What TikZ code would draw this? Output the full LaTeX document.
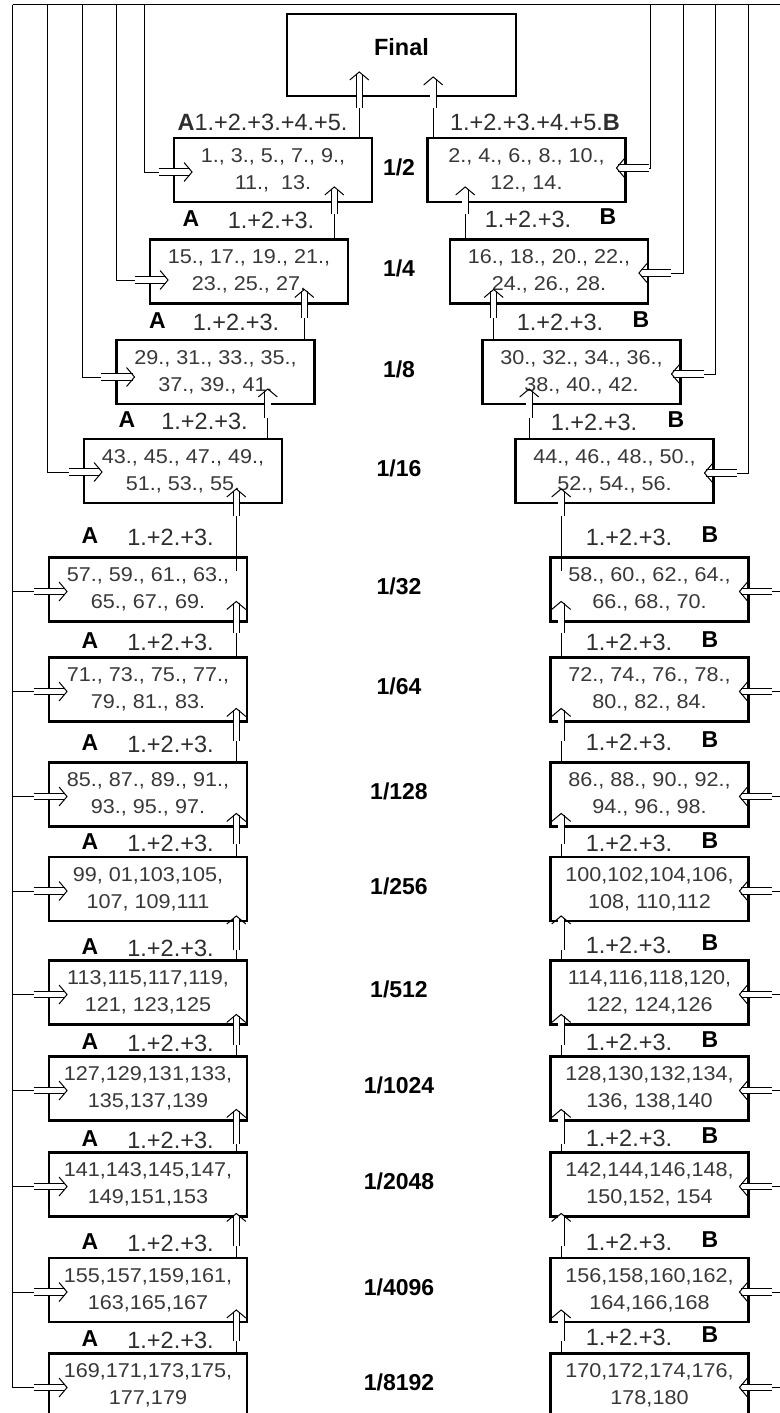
\documentclass[tikz,border=0pt]{standalone}
\usepackage{fontspec}
\setmainfont{Liberation Sans}
\newfontfamily\numfont[FakeStretch=1.08]{Liberation Sans}
\usetikzlibrary{arrows.meta,calc,decorations.markings}

\tikzset{
  roundbox/.style={draw, line width=2.6pt, minimum width=198pt, minimum height=64pt,
    inner sep=0pt, align=center, text=black!78, font=\numfont\fontsize{20}{27}\selectfont},
  feed/.style={double, double distance=5.5pt, line width=0.8pt, shorten >=2.5pt,
    postaction={decorate, decoration={markings, mark=at position 1 with
      {\arrow[line width=1pt]{Straight Barb[length=8pt,width=19pt]}}}}},
  wire/.style={line width=1pt},
  sumlab/.style={font=\fontsize{23.5}{24}\selectfont, text=black!82, inner sep=0pt},
  sidelab/.style={font=\fontsize{23}{24}\selectfont\bfseries, inner sep=0pt},
  fraclab/.style={font=\fontsize{23}{24}\selectfont\bfseries, inner sep=0pt},
}

\begin{document}
\begin{tikzpicture}[x=1pt, y=-1pt]
  \useasboundingbox (0,0) rectangle (779,1413);

  % Final box
  \node[draw, line width=2.6pt, minimum width=229pt, minimum height=82pt, inner sep=0pt,
    label={[anchor=center, yshift=-34pt, font=\fontsize{23.5}{24}\selectfont\bfseries]north:Final}]
    (fin) at (401.5,55) {};

  % Left boxes
  \foreach \i/\x/\y/\txt in {1/273/170/{1., 3., 5., 7., 9.,\\11.,\ \ 13.},
      2/249/271.5/{15., 17., 19., 21.,\\23., 25., 27.},
      3/215.5/372/{29., 31., 33., 35.,\\37., 39., 41.},
      4/183/471/{43., 45., 47., 49.,\\51., 53., 55.},
      5/148/589.5/{57., 59., 61., 63.,\\65., 67., 69.},
      6/148/689.5/{71., 73., 75., 77.,\\79., 81., 83.},
      7/148/794.5/{85., 87., 89., 91.,\\93., 95., 97.},
      8/148/889/{99, 01,103,105,\\107, 109,111},
      9/148/992.5/{113,115,117,119,\\121, 123,125},
      10/148/1088.5/{127,129,131,133,\\135,137,139},
      11/148/1184.5/{141,143,145,147,\\149,151,153},
      12/148/1290/{155,157,159,161,\\163,165,167},
      13/148/1385.5/{169,171,173,175,\\177,179}}
    \node[roundbox] (l\i) at (\x,\y) {\txt};

  % Right boxes
  \foreach \i/\x/\y/\txt in {1/526.5/170/{2., 4., 6., 8., 10.,\\12., 14.},
      2/549/271.5/{16., 18., 20., 22.,\\24., 26., 28.},
      3/581.5/372/{30., 32., 34., 36.,\\38., 40., 42.},
      4/614.5/471/{44., 46., 48., 50.,\\52., 54., 56.},
      5/649.5/589.5/{58., 60., 62., 64.,\\66., 68., 70.},
      6/649.5/689.5/{72., 74., 76., 78.,\\80., 82., 84.},
      7/649.5/794.5/{86., 88., 90., 92.,\\94., 96., 98.},
      8/649.5/889/{100,102,104,106,\\108, 110,112},
      9/649.5/992.5/{114,116,118,120,\\122, 124,126},
      10/649.5/1088.5/{128,130,132,134,\\136, 138,140},
      11/649.5/1184.5/{142,144,146,148,\\150,152, 154},
      12/649.5/1290/{156,158,160,162,\\164,166,168},
      13/649.5/1385.5/{170,172,174,176,\\178,180}}
    \node[roundbox] (r\i) at (\x,\y) {\txt};

  % Stage fractions
  \foreach \i/\y/\d in {1/170/2, 2/271.5/4, 3/372/8, 4/471/16, 5/589.5/32, 6/689.5/64,
      7/794.5/128, 8/889/256, 9/992.5/512, 10/1088.5/1024, 11/1184.5/2048,
      12/1290/4096, 13/1385.5/8192}
    \node[fraclab] (st\i) at (399,\y-3) {1/\d};

  % Sum labels
  \node[sumlab] (topl) at (262.5,122) {\textbf{A}1.+2.+3.+4.+5.};
  \node[sumlab] (topr) at (535,122) {1.+2.+3.+4.+5.\textbf{B}};
  \foreach \i/\xa/\xs/\y in {1/191/271/220, 2/157.5/236/322, 3/127/204.5/421,
      4/90/170.5/537, 5/90/170.5/642, 6/90/170.5/744, 7/90/170.5/843, 8/90/170.5/948,
      9/90/170.5/1043, 10/90/170.5/1140, 11/90/170.5/1243, 12/90/170.5/1340} {
    \node[sidelab] (al\i) at (\xa,\y-1) {A};
    \node[sumlab] (sl\i) at (\xs,\y) {1.+2.+3.};
  }
  \foreach \i/\xs/\xb/\y in {1/528/608/219, 2/560/641/322, 3/594/676/422,
      4/629/710/537, 5/629/710/642, 6/629/710/742, 7/629/710/843, 8/629/710/945,
      9/629/710/1042, 10/629/710/1138, 11/629/710/1242, 12/629/710/1337} {
    \node[sidelab] (br\i) at (\xb,\y-2) {B};
    \node[sumlab] (sr\i) at (\xs,\y) {1.+2.+3.};
  }

  % Feed lines from the top
  \coordinate (tlft) at (12.5,5);
  \coordinate (trgt) at (786,5);
  \draw[wire] (tlft) -- (trgt);
  \foreach \i/\x/\dy in {1/144/2, 2/116/8.5, 3/82/5, 4/47/1} {
    \coordinate (vl\i) at (\x,5);
    \draw[wire] (vl\i) |- ($(l\i.west)+(-14,\dy)$);
    \draw[feed] ($(l\i.west)+(-14,\dy)$) -- ($(l\i.west)+(20,\dy)$);
  }
  \foreach \i in {5,...,13} {
    \draw[wire] (tlft) |- ($(l\i.west)+(-14,2)$);
    \draw[feed] ($(l\i.west)+(-14,2)$) -- ($(l\i.west)+(20,2)$);
  }
  \foreach \i/\x/\dy in {1/650/-2, 2/683/1.5, 3/715/2, 4/748/2} {
    \coordinate (vr\i) at (\x,5);
    \draw[wire] (vr\i) |- ($(r\i.east)+(22,\dy)$);
    \draw[feed] ($(r\i.east)+(22,\dy)$) -- ($(r\i.east)+(-11,\dy)$);
  }
  \foreach \i in {5,...,13} {
    \draw[wire] (trgt) |- ($(r\i.east)+(22,2)$);
    \draw[feed] ($(r\i.east)+(22,2)$) -- ($(r\i.east)+(-11,2)$);
  }

  % Winners up to the final
  \draw[wire] ($(l1.north east)+(-14,0)$) -- ($(l1.north east |- fin.south)+(-14,11)$);
  \draw[feed] ($(l1.north east |- fin.south)+(-14,11)$) -- ($(l1.north east |- fin.south)+(-14,-26)$);
  \draw[wire] ($(r1.north west)+(7,0)$) -- ($(r1.north west |- fin.south)+(7,11)$);
  \draw[feed] ($(r1.north west |- fin.south)+(7,11)$) -- ($(r1.north west |- fin.south)+(7,-21)$);

  % Winners up one stage
  \foreach \j/\o/\s/\t/\e in {2/39/11/17/0, 3/45/13/16/0, 4/48/13/17/0, 5/47/12/16/15,
      6/12/10/22/0, 7/12/18/15/0, 8/12/16/15/0, 9/12/28/7/0, 10/12/19/12/0,
      11/12/22/13/0, 12/12/28/5/0, 13/12/18/14/0} {
    \pgfmathtruncatemacro{\i}{\j-1}
    \draw[wire] ($(l\i.south east |- l\j.north)+(-\o,\e)$) -- ($(l\i.south east)+(-\o,\s)$);
    \draw[feed] ($(l\i.south east)+(-\o,\s)$) -- ($(l\i.south east)+(-\o,-\t)$);
    \draw[wire] ($(r\i.south west |- r\j.north)+(\o,\e)$) -- ($(r\i.south west)+(\o,\s)$);
    \draw[feed] ($(r\i.south west)+(\o,\s)$) -- ($(r\i.south west)+(\o,-\t)$);
  }
\end{tikzpicture}
\end{document}
